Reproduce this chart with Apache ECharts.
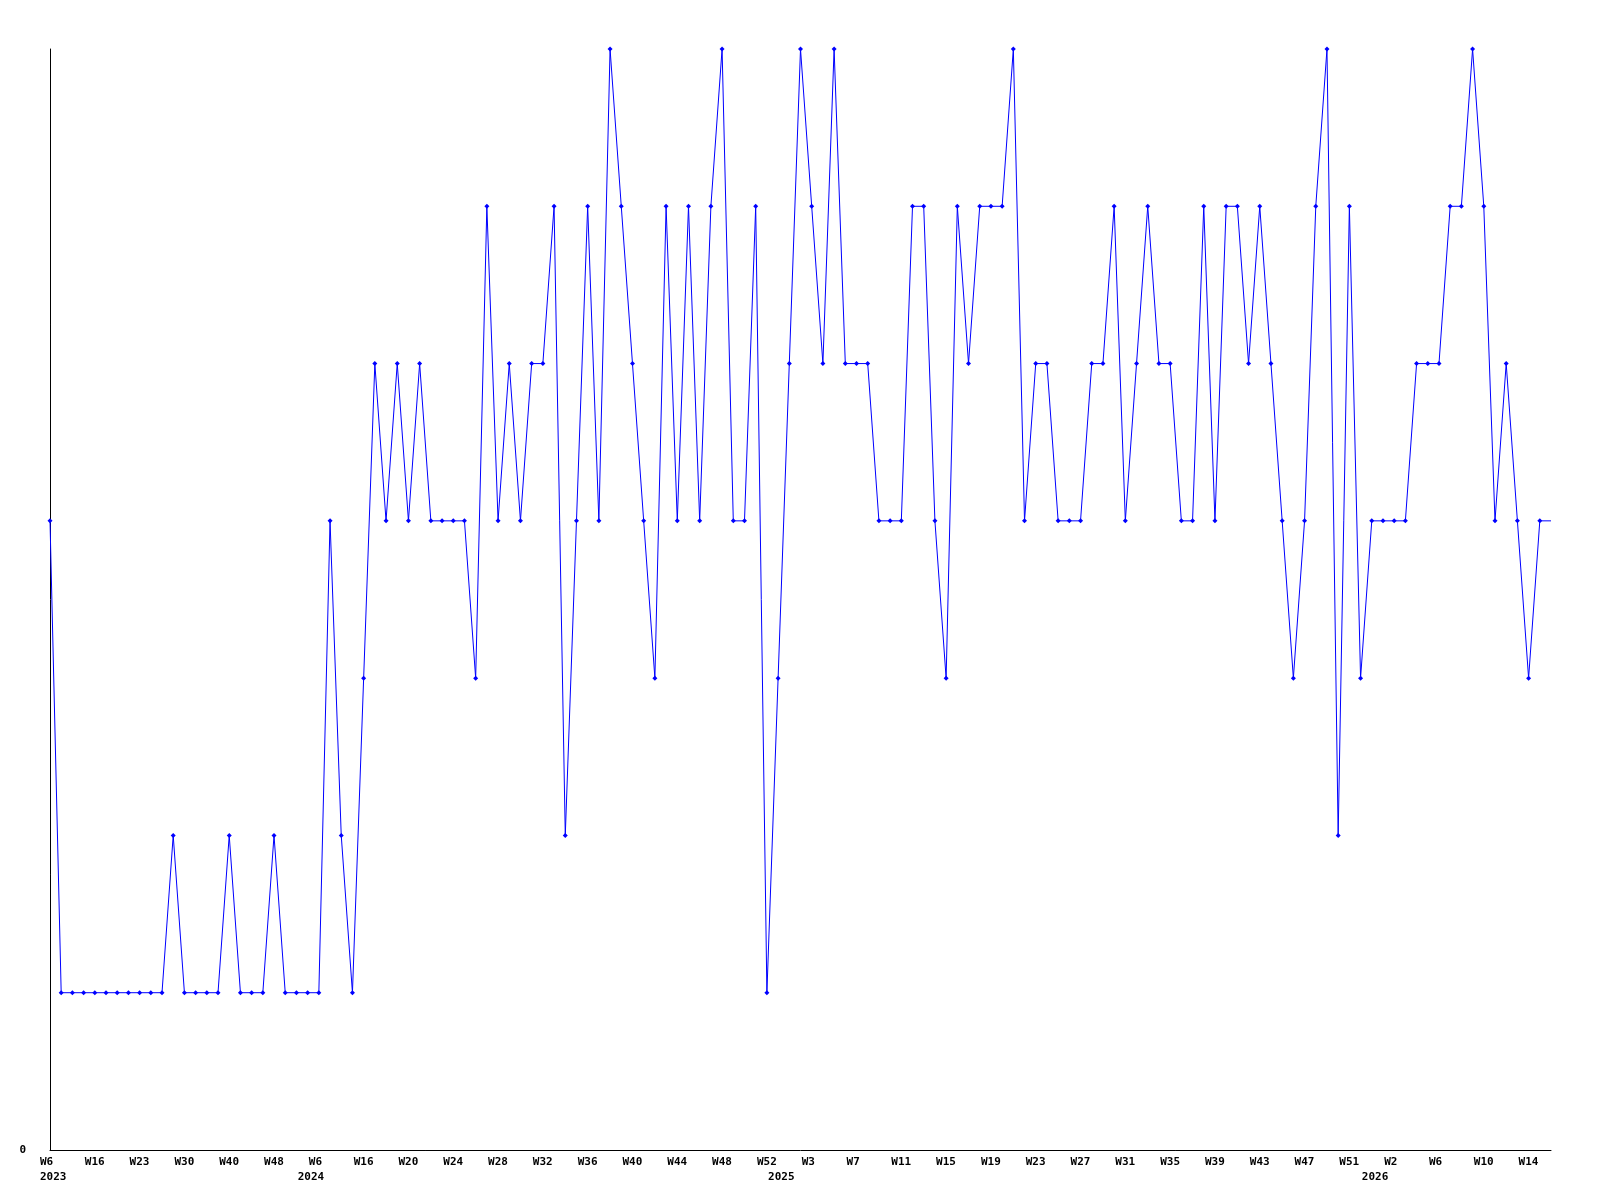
<!DOCTYPE html>
<html>
<head>
<meta charset="utf-8">
<script src="https://cdn.jsdelivr.net/npm/echarts@6/dist/echarts.min.js"></script>
<style>
html,body{margin:0;padding:0;background:#fff;}
#chart{width:1600px;height:1200px;}
</style>
</head>
<body>
<div id="chart"></div>
<script>
// Week numbers per year, as printed on the axis
const weeks2023 = [6,8,11,13,16,17,19,21,23,25,27,28,30,33,35,37,40,42,44,46,48,50,52];
const weeks2024 = [1,6,9,11,14,16,17,18,19,20,21,22,23,24,25,26,27,28,29,30,31,32,33,34,35,36,37,38,39,40,41,42,43,44,45,46,47,48,49,50,51,52];
const weeks2025 = [0,1,2,3,4,5,6,7,8,9,10,11,12,13,14,15,16,17,18,19,20,21,22,23,24,25,26,27,28,29,30,31,32,33,34,35,36,37,38,39,40,41,42,43,44,45,46,47,48,49,50,51,52];
const weeks2026 = [0,1,2,3,4,5,6,7,8,9,10,11,12,13,14,15,16];
const values = [
  4,1,1,1,1,1,1,1,1,1,1,2,1,1,1,1,2,1,1,1,2,1,1,1,1,
  4,2,1,3,
  5,4,5,4,5,4,4,4,4,3,6,4,5,4,5,5,6,2,4,6,4,7,6,5,4,3,6,4,
  6,4,6,7,4,4,6,1,3,5,7,6,5,7,5,5,5,4,4,4,6,6,4,3,6,5,6,6,
  6,7,4,5,5,4,4,4,5,5,6,4,5,6,5,5,4,4,6,4,6,6,5,6,5,4,3,4,6,7,
  2,6,3,4,4,4,4,5,5,5,6,6,7,6,4,5,4,3,4,4
];
const yMin = 0, yMax = 7;

const yearWeeks = [[2023, weeks2023], [2024, weeks2024], [2025, weeks2025], [2026, weeks2026]];
const years = [], weeks = [];
yearWeeks.forEach(([y, ws]) => ws.forEach(w => { years.push(y); weeks.push(w); }));
const categories = years.map((y, i) => y + '-W' + weeks[i]);
const yearStart = years.map((y, i) => i === 0 || years[i - 1] !== y);

const chart = echarts.init(document.getElementById('chart'), null, {renderer: 'canvas'});
const font = '"DejaVu Sans Mono", "Liberation Mono", monospace';
chart.setOption({
  animation: false,
  backgroundColor: '#ffffff',
  grid: {left: 50, right: 49, top: 49, bottom: 50, containLabel: false},
  xAxis: {
    type: 'category',
    data: categories,
    boundaryGap: false,
    axisLine: {show: true, lineStyle: {color: '#000000', width: 1}},
    axisTick: {show: false},
    splitLine: {show: false},
    axisLabel: {
      interval: (i) => i % 4 === 0 || yearStart[i],
      formatter: (val, i) => {
        const top = i % 4 === 0 ? 'W' + weeks[i] : '';
        return yearStart[i] ? top + '\n' + years[i] : top;
      },
      align: 'left',
      padding: [0, 0, 0, -10],
      margin: 5,
      lineHeight: 15,
      color: '#000000',
      fontFamily: font,
      fontWeight: 'bold',
      fontSize: 11,
      hideOverlap: false
    }
  },
  yAxis: {
    type: 'value',
    min: yMin,
    max: yMax,
    interval: 7,
    axisLine: {show: true, lineStyle: {color: '#000000', width: 1}},
    axisTick: {show: false},
    splitLine: {show: false},
    axisLabel: {
      formatter: (v) => (v === 0 ? '0' : ''),
      margin: 24,
      color: '#000000',
      fontFamily: font,
      fontWeight: 'bold',
      fontSize: 11
    }
  },
  series: [{
    type: 'line',
    data: values.map((v, i) => i === values.length - 1 ? {value: v, symbol: 'none'} : v),
    symbol: 'diamond',
    symbolSize: 5,
    showAllSymbol: true,
    lineStyle: {color: '#0000ff', width: 1},
    itemStyle: {color: '#0000ff'},
    clip: false
  }]
});
</script>
</body>
</html>
